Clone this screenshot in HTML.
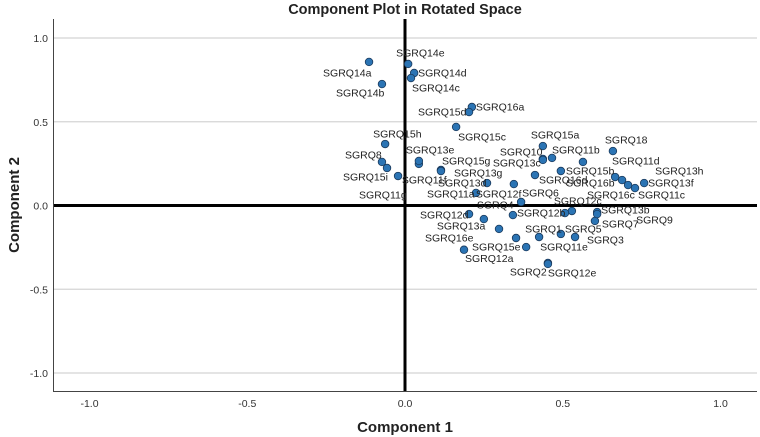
<!DOCTYPE html>
<html><head><meta charset="utf-8"><style>
body{margin:0;background:#fff;}
svg{display:block;font-family:"Liberation Sans","DejaVu Sans",sans-serif;}
</style></head><body>
<svg id="chart" width="760" height="437" viewBox="0 0 760 437"></svg>
<script>
const names=["SGRQ14a","SGRQ14e","SGRQ14d","SGRQ14c","SGRQ14b","SGRQ16a","SGRQ15d","SGRQ15c","SGRQ15h","SGRQ8","SGRQ15i","SGRQ11g","SGRQ11f","SGRQ13e","SGRQ15g","SGRQ13g","SGRQ13d","SGRQ11a","SGRQ12f","SGRQ6","SGRQ16d","SGRQ15a","SGRQ10","SGRQ11b","SGRQ13c","SGRQ15b","SGRQ11d","SGRQ18","SGRQ16b","SGRQ16c","SGRQ11c","SGRQ13f","SGRQ13h","SGRQ12c","SGRQ12b","SGRQ4","SGRQ13b","SGRQ7","SGRQ9","SGRQ12d","SGRQ13a","SGRQ16e","SGRQ15e","SGRQ1","SGRQ5","SGRQ3","SGRQ11e","SGRQ12a","SGRQ2","SGRQ12e"];
const comp1=[-0.114,0.010,0.029,0.019,-0.073,0.212,0.203,0.162,-0.063,-0.073,-0.057,-0.022,0.044,0.044,0.114,0.114,0.260,0.225,0.345,0.368,0.412,0.437,0.437,0.466,0.437,0.494,0.564,0.659,0.666,0.707,0.729,0.758,0.688,0.529,0.507,0.342,0.609,0.602,0.609,0.203,0.250,0.298,0.352,0.425,0.494,0.539,0.384,0.187,0.453,0.453];
const comp2=[0.857,0.845,0.791,0.761,0.725,0.588,0.558,0.469,0.367,0.260,0.224,0.176,0.248,0.266,0.212,0.206,0.134,0.075,0.128,0.021,0.182,0.355,0.278,0.284,0.272,0.206,0.260,0.325,0.170,0.122,0.104,0.134,0.152,-0.033,-0.045,-0.057,-0.039,-0.092,-0.051,-0.051,-0.081,-0.140,-0.194,-0.188,-0.170,-0.188,-0.248,-0.264,-0.343,-0.349];
const xTicks=[-1.0,-0.5,0.0,0.5,1.0];
const yTicks=[1.0,0.5,0.0,-0.5,-1.0];
// label offsets (styling)
const ldx=[-46,-12,4,1,-46,4,-51,2,-12,-37,-44,-39,-17,-13,1,13,-49,-49,-38,1,4,-12,-43,0,-50,5,29,-8,-49,-41,3,4,33,-18,-48,-36,4,7,39,-49,-47,-74,-44,-14,4,12,14,1,-38,0];
const ldy=[11,-11,0,10,9,0,0,10,-10,-7,9,19,16,-11,-9,2,0,1,10,-9,5,-11,-7,-8,3,0,-1,-11,6,10,7,0,-9,-10,0,-10,-2,3,6,1,7,9,9,-8,-5,3,0,9,9,9];

const X=v=>405+v*315.5;
const Y=v=>205.5-v*167.5;
const svg=document.getElementById('chart');
const NS='http://www.w3.org/2000/svg';
function mk(tag,attrs,parent){const e=document.createElementNS(NS,tag);for(const k in attrs)e.setAttribute(k,attrs[k]);(parent||svg).appendChild(e);return e;}

let t=mk('text',{x:405,y:14,'text-anchor':'middle','font-size':14.5,'font-weight':'bold',fill:'#222'});
t.textContent='Component Plot in Rotated Space';



yTicks.forEach(v=>{
  if(v!==0){const g=mk('line',{x1:54,x2:757,y1:Y(v),y2:Y(v),stroke:'#d4d4d4','stroke-width':1.2});
  
  }
  const l=mk('text',{x:48,y:Y(v)+4,'text-anchor':'end','font-size':10.5,fill:'#333'});
  l.textContent=v.toFixed(1);
  
  
});
xTicks.forEach(v=>{
  const l=mk('text',{x:X(v),y:407,'text-anchor':'middle','font-size':10.5,fill:'#333'});
  l.textContent=v.toFixed(1);
  
  
});
let f=mk('path',{d:'M53.5 19 V391.5 H757',fill:'none',stroke:'#444','stroke-width':1});


let zx=mk('line',{x1:54,x2:757,y1:Y(0),y2:Y(0),stroke:'#000','stroke-width':3});


let zy=mk('line',{x1:X(0),x2:X(0),y1:19,y2:391,stroke:'#000','stroke-width':3});



names.forEach((n,i)=>{
  const c=mk('circle',{cx:X(comp1[i]),cy:Y(comp2[i]),r:3.8,fill:'#2b74b4',stroke:'#1b3a5c','stroke-width':0.8});
  
  
});
names.forEach((n,i)=>{
  const l=mk('text',{x:X(comp1[i])+ldx[i],y:Y(comp2[i])+ldy[i]+3.5,'font-size':10.5,fill:'#222'});
  l.textContent=n;
  
  
});

t=mk('text',{x:405,y:432,'text-anchor':'middle','font-size':15,'font-weight':'bold',fill:'#222'});
t.textContent='Component 1';


t=mk('text',{x:19,y:205,'text-anchor':'middle','font-size':15,'font-weight':'bold',fill:'#222',transform:'rotate(-90 19 205)'});
t.textContent='Component 2';


</script>
</body></html>
